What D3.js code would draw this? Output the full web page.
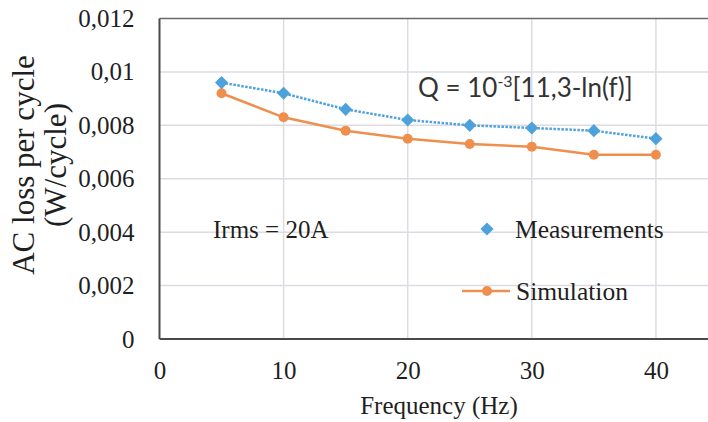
<!DOCTYPE html>
<html>
<head>
<meta charset="utf-8">
<script src="https://cdn.jsdelivr.net/npm/d3@7"></script>
<style>
  html, body { margin: 0; padding: 0; background: #fff; }
  svg { display: block; }
</style>
</head>
<body>
<svg id="chart" width="708" height="422"></svg>
<script>
// Frequency sweep (Hz) and AC loss per cycle (W/cycle)
const frequencies = [5, 10, 15, 20, 25, 30, 35, 40];
const measurements = [0.0096, 0.0092, 0.0086, 0.0082, 0.0080, 0.0079, 0.0078, 0.0075];
const simulation = [0.0092, 0.0083, 0.0078, 0.0075, 0.0073, 0.0072, 0.0069, 0.0069];
const xTicks = [0, 10, 20, 30, 40];
const yTicks = [0, 0.002, 0.004, 0.006, 0.008, 0.01, 0.012];
const yTickLabels = ["0", "0,002", "0,004", "0,006", "0,008", "0,01", "0,012"];

const svg = d3.select("#chart");
const serif = "'Liberation Serif', 'Times New Roman', serif";
const sans = "Lato, 'Liberation Sans', Arial, sans-serif";
const blue = "#4ea2dc";
const orange = "#ee8f4d";
const ink = "#1f1f1f";

const plotLeft = 159.5, plotTop = 18.5, plotBottom = 339;
const x = d3.scaleLinear().domain([0, 50]).range([plotLeft, plotLeft + 620.5]);
const y = d3.scaleLinear().domain([0, 0.012]).range([plotBottom, plotTop]);

// Gridlines
const grid = svg.append("g");
grid.selectAll("line.v").data(xTicks.filter(d => d > 0)).join("line")
  .attr("x1", d => x(d)).attr("x2", d => x(d))
  .attr("y1", plotTop).attr("y2", plotBottom)
  .attr("stroke", "#dcdce2").attr("stroke-width", 1.5);
grid.selectAll("line.h").data(yTicks.filter(d => d > 0 && d < 0.012)).join("line")
  .attr("x1", plotLeft).attr("x2", 708)
  .attr("y1", d => y(d)).attr("y2", d => y(d))
  .attr("stroke", "#dcdce2").attr("stroke-width", 1.5);

// Plot frame
svg.append("line").attr("x1", plotLeft).attr("x2", 708).attr("y1", plotTop).attr("y2", plotTop)
  .attr("stroke", "#6a6a6a").attr("stroke-width", 1.5);
svg.append("line").attr("x1", plotLeft).attr("x2", 708).attr("y1", plotBottom).attr("y2", plotBottom)
  .attr("stroke", "#4a4a4a").attr("stroke-width", 2);
svg.append("line").attr("x1", plotLeft).attr("x2", plotLeft).attr("y1", plotTop).attr("y2", plotBottom)
  .attr("stroke", "#4a4a4a").attr("stroke-width", 2);

// Axes (labels only)
const xAxis = svg.append("g").attr("transform", `translate(0,${plotBottom + 19})`)
  .call(d3.axisBottom(x).tickValues(xTicks).tickSize(0).tickFormat(d3.format("d")));
xAxis.select(".domain").remove();
xAxis.selectAll("text").attr("font-family", serif).attr("font-size", 25).attr("fill", ink);

const yAxis = svg.append("g").attr("transform", `translate(${plotLeft - 22},0)`)
  .call(d3.axisLeft(y).tickValues(yTicks).tickSize(0).tickFormat((d, i) => yTickLabels[i]));
yAxis.select(".domain").remove();
yAxis.selectAll("text").attr("font-family", serif).attr("font-size", 25).attr("fill", ink);

// Axis titles
svg.append("text").attr("x", 439).attr("y", 414).attr("text-anchor", "middle")
  .attr("font-family", serif).attr("font-size", 25).attr("fill", ink).text("Frequency (Hz)");
svg.append("text").attr("transform", "translate(34,165) rotate(-90)").attr("text-anchor", "middle")
  .attr("font-family", serif).attr("font-size", 31).attr("fill", ink).text("AC loss per cycle");
svg.append("text").attr("transform", "translate(66,165) rotate(-90)").attr("text-anchor", "middle")
  .attr("font-family", serif).attr("font-size", 31).attr("fill", ink).text("(W/cycle)");

// Series
const meas = frequencies.map((f, i) => [f, measurements[i]]);
const sim = frequencies.map((f, i) => [f, simulation[i]]);
const line = d3.line().x(d => x(d[0])).y(d => y(d[1]));

svg.append("path").datum(sim).attr("d", line).attr("fill", "none")
  .attr("stroke", orange).attr("stroke-width", 2.5);
svg.selectAll("circle.sim").data(sim).join("circle")
  .attr("cx", d => x(d[0])).attr("cy", d => y(d[1])).attr("r", 5).attr("fill", orange);

svg.append("path").datum(meas).attr("d", line).attr("fill", "none")
  .attr("stroke", blue).attr("stroke-width", 2.5).attr("stroke-dasharray", "2.5,1.5");
const diamond = d3.symbol().type(d3.symbolDiamond2).size(110);
svg.selectAll("path.meas").data(meas).join("path")
  .attr("transform", d => `translate(${x(d[0])},${y(d[1])})`)
  .attr("d", diamond).attr("fill", blue);

// Annotations
const eq = svg.append("text").attr("x", 418).attr("y", 97)
  .attr("font-family", sans).attr("font-size", 26).attr("fill", "#333");
eq.append("tspan").text("Q = 10");
eq.append("tspan").attr("dy", -10).attr("font-size", 16).text("-3");
eq.append("tspan").attr("dy", 10).text("[11,3-ln(f)]");

svg.append("text").attr("x", 213).attr("y", 238)
  .attr("font-family", serif).attr("font-size", 25).attr("fill", ink).text("Irms = 20A");

// Legend
svg.append("path").attr("transform", "translate(487,229)").attr("d", diamond).attr("fill", blue);
svg.append("text").attr("x", 515).attr("y", 238)
  .attr("font-family", serif).attr("font-size", 25.5).attr("fill", ink).text("Measurements");
svg.append("line").attr("x1", 462).attr("x2", 510).attr("y1", 291).attr("y2", 291)
  .attr("stroke", orange).attr("stroke-width", 2.5);
svg.append("circle").attr("cx", 487).attr("cy", 291).attr("r", 5).attr("fill", orange);
svg.append("text").attr("x", 516).attr("y", 300)
  .attr("font-family", serif).attr("font-size", 25.5).attr("fill", ink).text("Simulation");
</script>
</body>
</html>
